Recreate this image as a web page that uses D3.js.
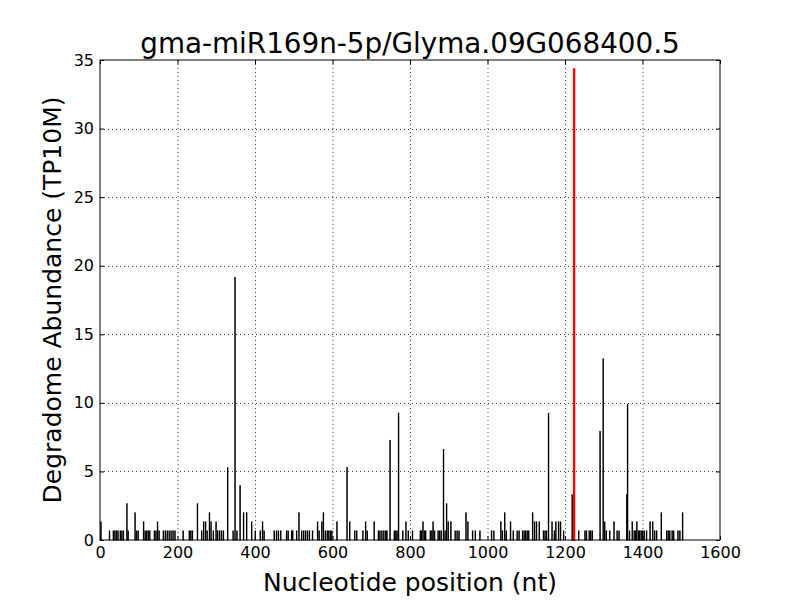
<!DOCTYPE html>
<html><head><meta charset="utf-8">
<script src="https://cdn.jsdelivr.net/npm/d3@7/dist/d3.min.js"></script>
<style>body{margin:0;background:#fff}text{font-family:"DejaVu Sans",sans-serif}</style>
</head><body><svg id="c" width="800" height="600"></svg>
<script>
const title = "gma-miR169n-5p/Glyma.09G068400.5";
const xLabel = "Nucleotide position (nt)";
const yLabel = "Degradome Abundance (TP10M)";
const xTicks = [0,200,400,600,800,1000,1200,1400,1600];
const yTicks = [0,5,10,15,20,25,30,35];
const positions = [2,24,34,38,42,46,52,56,60,69,72,90,94,98,112,116,120,124,128,140,144,148,152,163,168,173,178,183,188,193,214,230,234,238,251,262,267,272,276,282,286,292,299,303,308,313,318,329,343,348,353,361,370,378,391,400,413,419,423,449,455,460,466,481,485,494,497,507,513,520,525,530,535,540,548,561,565,572,576,581,586,590,594,598,611,637,644,657,662,678,685,689,707,718,722,727,732,737,740,748,759,763,766,770,781,789,795,806,826,829,833,837,840,852,856,859,863,872,876,880,886,890,894,898,905,916,921,926,944,949,961,968,980,1010,1016,1034,1038,1044,1048,1059,1066,1076,1081,1090,1094,1098,1102,1106,1116,1121,1126,1133,1144,1148,1152,1157,1166,1172,1176,1183,1188,1196,1218,1235,1251,1255,1262,1266,1270,1290,1298,1302,1306,1315,1326,1334,1339,1359,1361,1366,1373,1378,1382,1385,1389,1392,1396,1400,1404,1410,1419,1426,1431,1436,1448,1462,1466,1470,1476,1480,1491,1496,1503];
const values = [1.32,0.66,0.66,0.66,0.66,0.66,0.66,0.66,0.66,2.64,0.66,1.98,0.66,0.66,1.32,0.66,0.66,0.66,0.66,0.66,0.66,1.32,0.66,0.66,0.66,0.66,0.66,0.66,0.66,0.66,0.66,0.66,0.66,0.66,2.64,0.66,1.32,1.32,0.66,1.98,1.32,0.66,1.32,0.66,0.66,0.66,0.66,5.28,0.66,19.14,0.66,3.96,1.98,1.98,1.32,0.66,0.66,1.32,0.66,0.66,0.66,0.66,0.66,0.66,0.66,0.66,0.66,0.66,1.98,0.66,0.66,0.66,0.66,0.66,0.66,1.32,0.66,1.32,1.98,0.66,0.66,0.66,0.66,0.66,1.32,5.28,1.32,0.66,0.66,0.66,1.32,0.66,1.32,0.66,0.66,0.66,0.66,0.66,0.66,7.26,0.66,0.66,0.66,9.24,0.66,1.32,0.66,0.66,0.66,0.66,1.32,0.66,0.66,0.66,0.66,1.32,0.66,0.66,0.66,0.66,6.6,0.66,2.64,1.32,1.32,0.66,0.66,0.66,1.98,1.32,0.66,0.66,0.66,0.66,0.66,1.32,0.66,1.98,0.66,1.32,0.66,0.66,0.66,0.66,0.66,0.66,0.66,0.66,1.98,1.32,1.32,1.32,0.66,0.66,0.66,9.24,1.32,0.66,1.32,1.32,1.32,0.66,3.3,0.66,0.66,0.66,0.66,0.66,0.66,7.92,13.2,1.32,0.66,0.66,1.32,0.66,0.66,3.3,9.9,0.66,1.32,0.66,0.66,1.32,0.66,0.66,0.66,0.66,0.66,0.66,1.32,1.32,0.66,0.66,1.98,0.66,0.66,0.66,0.66,0.66,0.66,0.66,1.98];
const targetPos = [1223];
const targetVal = [34.32];

const svg = d3.select("#c");
const m = {l:100, t:60, r:80, b:60};
const W = 800 - m.l - m.r, H = 600 - m.t - m.b;
const g = svg.append("g").attr("transform", `translate(${m.l},${m.t})`);
const x = d3.scaleLinear().domain([0,1600]).range([0,W]);
const y = d3.scaleLinear().domain([0,35]).range([H,0]);

// grid
g.append("g").selectAll("line").data(xTicks.slice(1,-1)).join("line")
  .attr("x1",d=>x(d)+0.5).attr("x2",d=>x(d)+0.5).attr("y1",0).attr("y2",H)
  .attr("stroke","#000").attr("stroke-width",0.7).attr("stroke-dasharray","1,3");
g.append("g").selectAll("line").data(yTicks.slice(1,-1)).join("line")
  .attr("y1",d=>Math.round(y(d))+0.5).attr("y2",d=>Math.round(y(d))+0.5).attr("x1",0).attr("x2",W)
  .attr("stroke","#000").attr("stroke-width",0.7).attr("stroke-dasharray","1,3");

const bw = x(1)-x(0);
const data = positions.map((p,i)=>({p, v:values[i]}));
g.append("g").selectAll("rect").data(data).join("rect")
  .attr("x",d=>x(d.p)).attr("y",d=>y(d.v)).attr("width",bw).attr("height",d=>H-y(d.v))
  .attr("fill","#000").attr("stroke","#000").attr("stroke-width",1);
const tdata = targetPos.map((p,i)=>({p, v:targetVal[i]}));
g.append("g").selectAll("rect").data(tdata).join("rect")
  .attr("x",d=>x(d.p)).attr("y",d=>y(d.v)).attr("width",bw).attr("height",d=>H-y(d.v))
  .attr("fill","#ff0000").attr("stroke","#ff0000").attr("stroke-width",2);

// axes
const ax = (gen, tr) => {
  const a = g.append("g").attr("transform",tr).call(gen);
  a.select(".domain").remove();
  a.selectAll("text").attr("font-size",16).attr("font-family","DejaVu Sans").attr("fill","#000");
  a.selectAll("line").attr("stroke","#000");
  return a;
};
ax(d3.axisBottom(x).tickValues(xTicks).tickSize(-4).tickPadding(7).tickFormat(d3.format("d")), `translate(0,${H})`);
ax(d3.axisTop(x).tickValues(xTicks).tickSize(-4).tickFormat(""), `translate(0,0)`);
ax(d3.axisLeft(y).tickValues(yTicks).tickSize(-4).tickPadding(6).tickFormat(d3.format("d")), `translate(0,0)`);
ax(d3.axisRight(y).tickValues(yTicks).tickSize(-4).tickFormat(""), `translate(${W},0)`);

g.append("rect").attr("x",0).attr("y",0).attr("width",W).attr("height",H)
  .attr("fill","none").attr("stroke","#000").attr("stroke-width",1);

svg.append("text").attr("x",m.l+W/2).attr("y",53).attr("text-anchor","middle")
  .attr("font-size",27.8).text(title);
svg.append("text").attr("x",m.l+W/2).attr("y",591).attr("text-anchor","middle")
  .attr("font-size",25).text(xLabel);
svg.append("text").attr("transform",`translate(61,${m.t+H/2}) rotate(-90)`).attr("text-anchor","middle")
  .attr("font-size",25).text(yLabel);
</script></body></html>
